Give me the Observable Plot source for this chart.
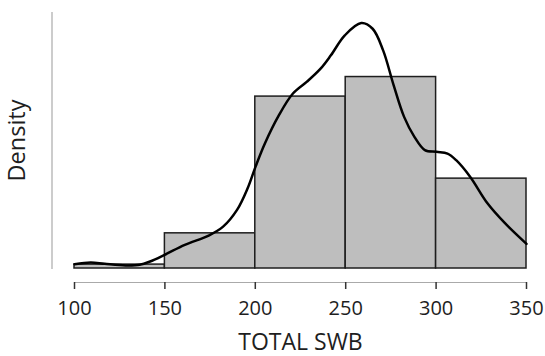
<!DOCTYPE html>
<html><head><meta charset="utf-8">
<script src="https://cdn.jsdelivr.net/npm/d3@7"></script>
<script src="https://cdn.jsdelivr.net/npm/@observablehq/plot@0.6"></script>
<style>html,body{margin:0;padding:0;background:#fff} #chart svg{display:block}</style>
</head><body><div id="chart"></div>
<script>
// Histogram bins (density scale)
const binStart = [100, 150, 200, 250, 300];
const binEnd = [150, 200, 250, 300, 350];
const binDensity = [0.000159, 0.001429, 0.006984, 0.007778, 0.003651];

// Kernel density curve
const curveX = [100, 109.0, 116.7, 128.3, 136.0, 141.8, 149.8, 161.0, 174.5, 182.2, 189.9, 195.7, 200.1, 205.3, 213.0, 220.7, 228.4, 236.1, 241.8, 249.5, 258.6, 264.9, 270.7, 276.5, 282.3, 288.0, 293.8, 300.2, 306.3, 311.1, 318.8, 328.4, 338.1, 350];
const curveY = [0.000176, 0.000243, 0.000189, 0.000122, 0.000149, 0.000284, 0.000554, 0.000959, 0.00135, 0.00170, 0.00238, 0.00325, 0.00413, 0.00508, 0.00622, 0.00710, 0.00758, 0.00812, 0.00866, 0.00947, 0.00997, 0.00974, 0.00886, 0.00745, 0.00616, 0.00535, 0.00481, 0.00474, 0.00467, 0.00440, 0.00373, 0.00265, 0.00184, 0.00100];

const xTicks = [100, 150, 200, 250, 300, 350];
const xLabel = "TOTAL SWB";
const yLabel = "Density";

const bars = binStart.map((s, i) => ({x1: s, x2: binEnd[i], y: binDensity[i]}));
const curve = curveX.map((x, i) => ({x, y: curveY[i]}));

const chart = Plot.plot({
  width: 545, height: 356,
  marginLeft: 74, marginRight: 19, marginTop: 12, marginBottom: 88,
  style: {fontFamily: "'Open Sans', sans-serif", background: "#fff", color: "#1e1e1e"},
  x: {domain: [100, 350]},
  y: {domain: [0, 0.0104], axis: null},
  marks: [
    Plot.rectY(bars, {x1: "x1", x2: "x2", y: "y", fill: "#bebebe", stroke: "#1e1e1e", strokeWidth: 1.5}),
    Plot.line(curve, {x: "x", y: "y", curve: "catmull-rom", stroke: "#000", strokeWidth: 2.5}),
    Plot.frame({anchor: "left", dx: -22.5, stroke: "#999"}),
    Plot.ruleY([0], {dy: 14, stroke: "#aaa"}),
    Plot.axisX({ticks: xTicks, tickSize: 7, tickPadding: 11, dy: 14, fontSize: 20, label: null, stroke: "#333", strokeWidth: 1.5}),
    Plot.text([xLabel], {frameAnchor: "bottom", lineAnchor: "middle", dy: 74.5, fontSize: 23}),
    Plot.text([yLabel], {frameAnchor: "left", textAnchor: "middle", lineAnchor: "middle", dx: -57, rotate: -90, fontSize: 23.5})
  ]
});
document.getElementById("chart").appendChild(chart);
</script>
</body></html>
